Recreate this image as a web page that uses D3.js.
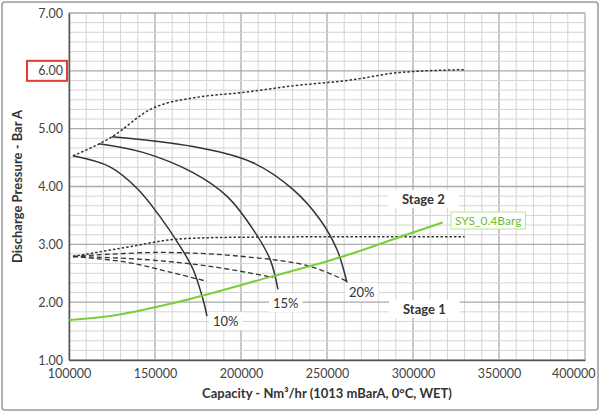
<!DOCTYPE html>
<html>
<head>
<meta charset="utf-8">
<script src="https://cdn.jsdelivr.net/npm/d3@7"></script>
<style>
  body { margin: 0; background: #fff; }
  text { font-family: Lato, "Open Sans", sans-serif; }
</style>
</head>
<body>
<script>
const xTicks = [100000, 150000, 200000, 250000, 300000, 350000, 400000]
const yTicks = [1, 2, 3, 4, 5, 6, 7]

// stage 2 speed curves (solid)
const curve10 = [[102300, 4.53], [123800, 4.34], [139500, 3.97], [152900, 3.48], [164500, 2.97], [172100, 2.57], [177900, 2.05], [180200, 1.76]]
const curve15 = [[117400, 4.74], [143000, 4.59], [172100, 4.24], [191900, 3.83], [207000, 3.26], [216900, 2.74], [221500, 2.22]]
const curve20 = [[125000, 4.86], [172100, 4.69], [207000, 4.41], [230200, 3.95], [245900, 3.43], [255800, 2.91], [261600, 2.34]]
// stage 2 surge line (dotted)
const surge2 = [[102300, 4.53], [125000, 4.86], [147100, 5.33], [176200, 5.55], [199400, 5.62], [230200, 5.74], [263400, 5.84], [292000, 5.97], [330000, 6.02]]
// stage 1 line (dotted)
const surge1 = [[102300, 2.79], [133700, 2.95], [162800, 3.09], [191900, 3.12], [250000, 3.13], [330000, 3.13]]
// stage 1 speed curves (dashed)
const dash10 = [[102300, 2.79], [133700, 2.69], [158700, 2.52], [180200, 2.36]]
const dash15 = [[102300, 2.79], [143000, 2.74], [182000, 2.62], [218600, 2.43]]
const dash20 = [[102300, 2.79], [152900, 2.86], [201200, 2.79], [240100, 2.62], [261600, 2.36]]
// system curve
const sysCurve = [[100000, 1.69], [123800, 1.76], [162800, 2.0], [218600, 2.45], [259300, 2.79], [296500, 3.17], [317400, 3.38]]

const svg = d3.select('body').append('svg')
  .attr('width', 600).attr('height', 412)

svg.append('rect').attr('x', 2).attr('y', 2).attr('width', 596).attr('height', 408)
  .attr('fill', '#fff').attr('stroke', '#999').attr('stroke-width', 1.5).attr('rx', 3)

const x = d3.scaleLinear().domain([100000, 400000]).range([69, 585])
const y = d3.scaleLinear().domain([1, 7]).range([360, 13])

const grid = svg.append('g')
d3.range(100000, 400001, 10000).forEach(v => {
  grid.append('line').attr('x1', x(v)).attr('x2', x(v)).attr('y1', y(1)).attr('y2', y(7))
    .attr('stroke', v % 50000 === 0 ? '#aaa' : '#d4d4d4').attr('stroke-width', v % 50000 === 0 ? 1.3 : 1)
})
d3.range(0, 37).forEach(i => {
  const v = 1 + i / 6
  grid.append('line').attr('x1', x(100000)).attr('x2', x(400000)).attr('y1', y(v)).attr('y2', y(v))
    .attr('stroke', i % 6 === 0 ? '#aaa' : '#d4d4d4').attr('stroke-width', i % 6 === 0 ? 1.3 : 1)
})

const xAxis = svg.append('g').attr('transform', `translate(0,${y(1)})`)
  .call(d3.axisBottom(x).tickValues(xTicks).tickFormat(d3.format('d')).tickSize(0).tickPadding(9))
const yAxis = svg.append('g').attr('transform', `translate(${x(100000)},0)`)
  .call(d3.axisLeft(y).tickValues(yTicks).tickFormat(d3.format('.2f')).tickSize(0).tickPadding(6))
;[xAxis, yAxis].forEach(a => {
  a.select('.domain').attr('stroke', '#555').attr('stroke-width', 1.5)
  a.selectAll('text').attr('fill', '#444').attr('font-size', 12.5).style('font-family', 'Lato, sans-serif')
})
xAxis.selectAll('.tick:last-of-type text').attr('text-anchor', 'end').attr('dx', 10)

// highlight 6.00
svg.append('rect').attr('x', 27).attr('y', y(6) - 10).attr('width', 40).attr('height', 20)
  .attr('fill', 'none').attr('stroke', '#e53935').attr('stroke-width', 2)

function label (txt, lx, ly, opts = {}) {
  const t = svg.append('text').attr('x', lx).attr('y', ly).text(txt)
    .attr('font-size', opts.size || 13).attr('fill', opts.color || '#333')
    .attr('font-weight', opts.bold ? 'bold' : 'normal')
  const b = t.node().getBBox()
  svg.insert('rect', () => t.node()).attr('x', b.x - (opts.padX || 4)).attr('y', b.y - 1)
    .attr('width', b.width + 2 * (opts.padX || 4)).attr('height', b.height + 2)
    .attr('fill', '#fff').attr('stroke', opts.border || 'none')
}
label('10%', 213, 326)
label('15%', 273, 308)
label('20%', 349, 297)
label('Stage 2', 402, 204, { bold: true, padX: 14 })
label('Stage 1', 403, 314, { bold: true, padX: 14 })

const line = d3.line().x(d => x(d[0])).y(d => y(d[1])).curve(d3.curveMonotoneX)
const lineY = d3.line().x(d => x(d[0])).y(d => y(d[1])).curve(d3.curveCatmullRom)

;[curve10, curve15, curve20].forEach(c => {
  svg.append('path').attr('d', lineY(c)).attr('fill', 'none').attr('stroke', '#333').attr('stroke-width', 1.5)
})
;[surge2, surge1].forEach(c => {
  svg.append('path').attr('d', line(c)).attr('fill', 'none').attr('stroke', '#333')
    .attr('stroke-width', 1.5).attr('stroke-dasharray', '2.5,2')
})
;[dash10, dash15, dash20].forEach(c => {
  svg.append('path').attr('d', lineY(c)).attr('fill', 'none').attr('stroke', '#333')
    .attr('stroke-width', 1.3).attr('stroke-dasharray', '5,3')
})
svg.append('path').attr('d', line(sysCurve)).attr('fill', 'none').attr('stroke', '#7dcc3c').attr('stroke-width', 2)

label('SYS_0.4Barg', 455, 225, { color: '#6cbf2a', border: '#b9e29a', size: 12 })

svg.append('text').attr('x', 327).attr('y', 398).attr('text-anchor', 'middle')
  .attr('font-size', 13).attr('font-weight', 'bold').attr('fill', '#333')
  .text('Capacity - Nm³/hr (1013 mBarA, 0°C, WET)')
svg.append('text').attr('transform', `translate(22,${y(4)}) rotate(-90)`).attr('text-anchor', 'middle')
  .attr('font-size', 13).attr('font-weight', 'bold').attr('fill', '#333')
  .text('Discharge Pressure - Bar A')
</script>
</body>
</html>
